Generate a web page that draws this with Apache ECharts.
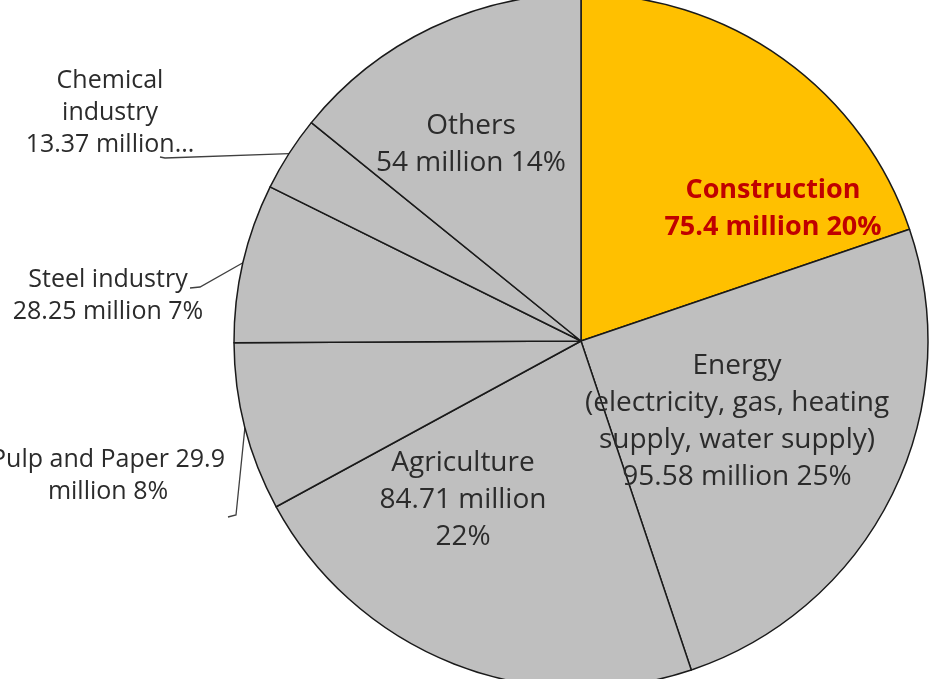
<!DOCTYPE html>
<html>
<head>
<meta charset="utf-8">
<script src="https://cdn.jsdelivr.net/npm/echarts@6/dist/echarts.min.js"></script>
<style>
html,body{margin:0;padding:0;background:#fff;}
#chart{width:935px;height:679px;}
</style>
</head>
<body>
<div id="chart"></div>
<script>
// Sector names (line breaks as in the reference labels)
var categories = [
  'Construction',
  'Energy\n(electricity, gas, heating\nsupply, water supply)',
  'Agriculture',
  'Pulp and Paper',
  'Steel industry',
  'Chemical\nindustry',
  'Others'
];
// Values in million
var values = [75.4, 95.58, 84.71, 29.9, 28.25, 13.37, 54];
// Separators: name -> value, value -> "million", "million" -> percent
var sepNameValue = ['\n', '\n', '\n', ' ', '\n', '\n', '\n'];
var sepValueUnit = [' ', ' ', ' ', '\n', ' ', ' ', ' '];
var sepUnitPct = [' ', ' ', '\n', ' ', ' ', '', ' '];
var truncated = [false, false, false, false, false, true, false];
var sliceColors = ['#FFC000', '#BFBFBF', '#BFBFBF', '#BFBFBF', '#BFBFBF', '#BFBFBF', '#BFBFBF'];
var insideLabel = [true, true, true, false, false, false, true];

// label anchor positions (centre of each text block)
var labelPos = [
  [773, 209], [737, 422], [463, 500], [108, 476], [108, 296], [110, 113], [471, 145]
];
// label-side points of leader lines (null = none)
var leaderStart = [null, null, null, [[228, 517], [236, 515]], [[190, 288], [200, 287]], [[160, 157], [165, 158]], null];

var CX = 581, CY = 341, R = 347;
var total = values.reduce(function (a, b) { return a + b; }, 0);
function edgePoint(i) {
  var before = 0;
  for (var k = 0; k < i; k++) before += values[k];
  var mid = (before + values[i] / 2) / total * 2 * Math.PI;
  return [CX + R * Math.sin(mid), CY - R * Math.cos(mid)];
}

var chart = echarts.init(document.getElementById('chart'), null, {renderer: 'canvas'});

var data = values.map(function (v, i) {
  var item = {
    name: categories[i],
    value: v,
    itemStyle: {color: sliceColors[i]},
    label: {
      position: insideLabel[i] ? 'inside' : 'outside',
      fontSize: insideLabel[i] ? 28 : 25,
      lineHeight: insideLabel[i] ? 37 : 32,
      color: '#2b2b2b'
    },
    labelLine: {show: !insideLabel[i]}
  };
  if (i === 0) {
    item.label.color = '#C00000';
    item.label.fontWeight = 'bold';
    item.label.fontSize = 27;
  }
  return item;
});

chart.setOption({
  animation: false,
  series: [{
    type: 'pie',
    center: [CX, CY],
    radius: [0, R],
    startAngle: 90,
    clockwise: true,
    avoidLabelOverlap: false,
    data: data,
    itemStyle: {borderColor: '#1a1a1a', borderWidth: 1.5},
    label: {
      show: true,
      fontFamily: 'Open Sans',
      align: 'center',
      formatter: function (p) {
        var i = p.dataIndex;
        var s = p.name + sepNameValue[i] + p.value + sepValueUnit[i] + 'million';
        if (truncated[i]) return s + '...';
        return s + sepUnitPct[i] + Math.round(p.percent) + '%';
      }
    },
    labelLine: {
      show: true,
      lineStyle: {color: '#404040', width: 1.3}
    },
    labelLayout: function (params) {
      var i = params.dataIndex;
      var pos = labelPos[i];
      var out = {x: pos[0], y: pos[1], align: 'center', verticalAlign: 'middle'};
      if (leaderStart[i]) {
        out.labelLinePoints = [leaderStart[i][0], leaderStart[i][1], edgePoint(i)];
      }
      return out;
    },
    emphasis: {disabled: true}
  }]
});
</script>
</body>
</html>
